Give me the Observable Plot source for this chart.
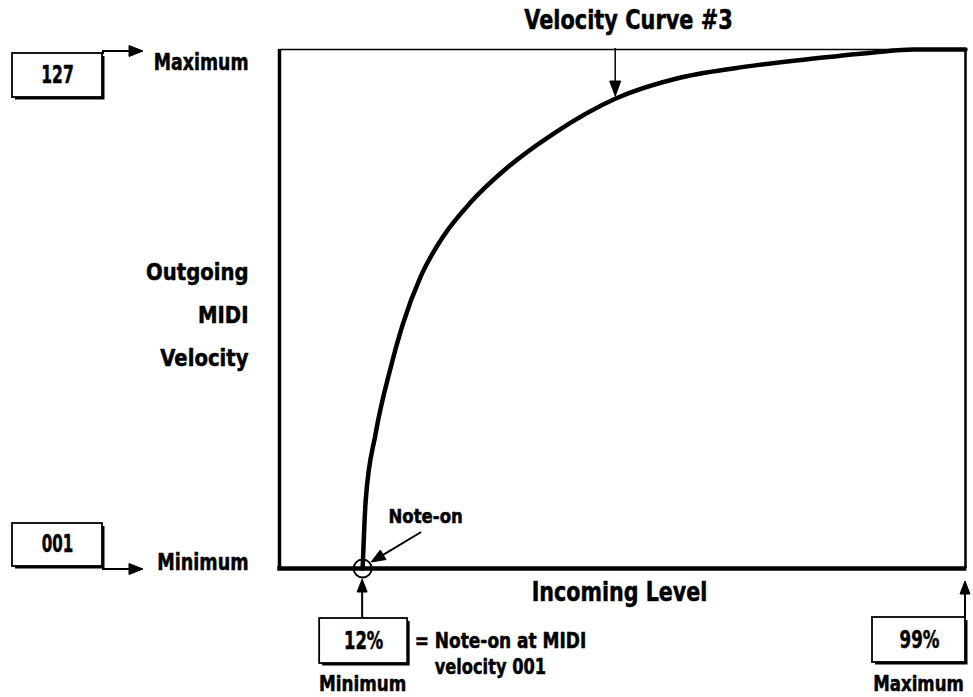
<!DOCTYPE html>
<html>
<head>
<meta charset="utf-8">
<script src="https://cdn.jsdelivr.net/npm/d3@7"></script>
<script src="https://cdn.jsdelivr.net/npm/@observablehq/plot@0.6"></script>
<style>
  html, body { margin: 0; padding: 0; background: #fff; }
  svg { display: block; }
</style>
</head>
<body>
<div id="chart"></div>
<script>
// ---- data ----
const title = "Velocity Curve #3";
const level =    [12, 12.44, 13.88, 16.05, 17.78, 20.38, 23.70, 27.59, 32.93, 39.57, 48.52, 57.90, 67.57, 77.09, 85.75, 91.52, 99];
const velocity = [1,  17.5,  33.8,  49.8,  60.2,  71.9,  81.8,  89.9,  98.4,  106.6, 115.1, 120.2, 122.9, 124.8, 126.3, 127,   127];
const yTicks = [127, 1];
const yTickLabels = ["127", "001"];
const yTickNames = ["Maximum", "Minimum"];
const xTicks = [12, 99];
const xTickLabels = ["12%", "99%"];
const xTickNames = ["Minimum", "Maximum"];
const yAxisTitle = "Outgoing\nMIDI\nVelocity";
const xAxisTitle = "Incoming Level";
const noteOnLabel = "Note-on";
const noteOnNote = ["= Note-on at MIDI", "velocity 001"];
const pointedIndex = 10; // curve point the title arrow points at

const curve = level.map((x, i) => ({x, y: velocity[i]}));
const FONT = '"DejaVu Sans Condensed", "DejaVu Sans", sans-serif';

// horizontal squeeze per text, to imitate the condensed face of the original
const squeeze = {
  "Velocity Curve #3": 0.86, "Maximum": 0.84, "Minimum": 0.85,
  "127": 0.72, "001": 0.70, "12%": 0.76, "99%": 0.77,
  "Incoming Level": 0.85, "Note-on": 0.92, "= Note-on at MIDI": 0.90,
  "velocity 001": 0.86, "OutgoingMIDIVelocity": 0.95
};

function tri(g, tx, ty, ux, uy, L, W) {
  const bx = tx - ux * L, by = ty - uy * L;
  const px = -uy * W, py = ux * W;
  g.append("path")
    .attr("d", `M${tx},${ty}L${bx + px},${by + py}L${bx - px},${by - py}Z`)
    .attr("fill", "black").attr("stroke", "black").attr("stroke-width", 1);
}

function annotations(index, scales) {
  const sx = scales.x, sy = scales.y;
  const g = d3.create("svg:g").attr("fill", "none").attr("stroke", "black").attr("stroke-linejoin", "miter");
  const x0 = sx(0), x12 = sx(xTicks[0]), x99 = sx(xTicks[1]);
  const yMax = sy(yTicks[0]), yMin = sy(yTicks[1]);

  function box(x, y, w, h) {
    g.append("rect").attr("x", x).attr("y", y).attr("width", w).attr("height", h)
      .attr("fill", "white").attr("stroke-width", 1.8);
    g.append("path").attr("d", `M${x + 3},${y + h + 1.2}H${x + w + 1.2}V${y + 3}`).attr("stroke-width", 2.6);
  }

  // left boxes (127 / 001)
  const bR = x0 - 177, bL = bR - 90;
  box(bL, yMax + 4, 90, 44);
  g.append("path").attr("d", `M${bR + 1},${yMax + 5}V${yMax + 2}H${bR + 28}`).attr("stroke-width", 2);
  tri(g, bR + 41, yMax + 2, 1, 0, 14, 5.5);

  box(bL, yMin - 45, 90, 43);
  g.append("path").attr("d", `M${bR + 1},${yMin - 3}V${yMin + 1}H${bR + 28}`).attr("stroke-width", 2);
  tri(g, bR + 41, yMin + 1, 1, 0, 14, 5.5);

  // bottom boxes (12% / 99%)
  box(x12 - 43, yMin + 50, 88, 45);
  g.append("path").attr("d", `M${x12},${yMin + 50}V${yMin + 22}`).attr("stroke-width", 2);
  tri(g, x12, yMin + 11, 0, -1, 13, 5);

  box(x99 - 93, yMin + 49, 93, 45);
  g.append("path").attr("d", `M${x99},${yMin + 49}V${yMin + 24}`).attr("stroke-width", 2);
  tri(g, x99, yMin + 13, 0, -1, 13, 5);

  // title arrow pointing at the curve
  const px = sx(level[pointedIndex]), py = sy(velocity[pointedIndex]) - 2;
  g.append("path").attr("d", `M${px},${yMax - 1}V${py - 12}`).attr("stroke-width", 1.5);
  tri(g, px, py, 0, 1, 15, 5.5);

  // note-on arrow
  const nx = x12, ny = yMin;
  const sxp = nx + 59, syp = ny - 36, ex = nx + 9, ey = ny - 6;
  const len = Math.hypot(ex - sxp, ey - syp), ux = (ex - sxp) / len, uy = (ey - syp) / len;
  g.append("path").attr("d", `M${sxp},${syp}L${ex - ux * 12},${ey - uy * 12}`).attr("stroke-width", 2);
  tri(g, ex, ey, ux, uy, 14, 5.5);

  return g.node();
}

const txt = {fontSize: 23, fontWeight: "bold", fill: "black", stroke: "black", strokeWidth: 0.5, lineAnchor: "middle", textAnchor: "middle"};

const plot = Plot.plot({
  width: 973,
  height: 697,
  marginTop: 49,
  marginBottom: 129,
  marginLeft: 279,
  marginRight: 8,
  x: {domain: [0, 99], axis: null},
  y: {domain: [1, 127], axis: null},
  style: {fontFamily: FONT, background: "white", color: "black", overflow: "visible"},
  marks: [
    // frame
    Plot.ruleY([127], {stroke: "black", strokeWidth: 1.7}),
    Plot.ruleX([99], {stroke: "black", strokeWidth: 2.5}),
    Plot.ruleX([0], {stroke: "black", strokeWidth: 3.5}),
    Plot.ruleY([1], {stroke: "black", strokeWidth: 4.5, x1: -0.25, x2: 99.2}),
    // curve
    Plot.line(curve, {x: "x", y: "y", curve: "monotone-x", stroke: "black", strokeWidth: 4.5}),
    // note-on circle
    Plot.dot([curve[0]], {x: "x", y: "y", r: 9, stroke: "black", strokeWidth: 2, fill: "none"}),
    annotations,
    // texts
    Plot.text([title], {text: d => d, frameAnchor: "top", ...txt, dx: 6, dy: -29, fontSize: 27}),
    Plot.text([yTickNames[0]], {text: d => d, frameAnchor: "top-left", ...txt, dx: -31, dy: 13, textAnchor: "end"}),
    Plot.text([yTickNames[1]], {text: d => d, frameAnchor: "bottom-left", ...txt, dx: -31, dy: -6, textAnchor: "end"}),
    Plot.text([yTickLabels[0]], {text: d => d, frameAnchor: "top-left", ...txt, dx: -222, dy: 26, fontSize: 24}),
    Plot.text([yTickLabels[1]], {text: d => d, frameAnchor: "bottom-left", ...txt, dx: -222, dy: -24, fontSize: 24}),
    Plot.text([yAxisTitle], {text: d => d, frameAnchor: "left", ...txt, dx: -31, dy: 0, textAnchor: "end", lineHeight: 1.87}),
    Plot.text([xAxisTitle], {text: d => d, frameAnchor: "bottom", ...txt, dx: -3, dy: 24, fontSize: 27}),
    Plot.text([noteOnLabel], {text: d => d, x: xTicks[0], y: 1, ...txt, dx: 63, dy: -52, fontSize: 20}),
    Plot.text([xTickLabels[0]], {text: d => d, x: xTicks[0], y: 1, ...txt, dx: 1, dy: 73, fontSize: 24}),
    Plot.text([xTickLabels[1]], {text: d => d, x: xTicks[1], y: 1, ...txt, dx: -46, dy: 72, fontSize: 24}),
    Plot.text([noteOnNote[0]], {text: d => d, x: xTicks[0], y: 1, ...txt, dx: 52, dy: 73, textAnchor: "start", fontSize: 21}),
    Plot.text([noteOnNote[1]], {text: d => d, x: xTicks[0], y: 1, ...txt, dx: 72, dy: 99, textAnchor: "start", fontSize: 21}),
    Plot.text([xTickNames[0]], {text: d => d, x: xTicks[0], y: 1, ...txt, dy: 115, fontSize: 22}),
    Plot.text([xTickNames[1]], {text: d => d, x: xTicks[1], y: 1, ...txt, dx: -47, dy: 115, fontSize: 22})
  ]
});

// squeeze text horizontally around its anchor
d3.select(plot).selectAll("text").each(function () {
  const k = squeeze[this.textContent];
  if (!k) return;
  const t = this.getAttribute("transform") || "";
  const x = +(this.getAttribute("x") || 0), y = +(this.getAttribute("y") || 0);
  if (x || y) {
    this.setAttribute("x", 0); this.setAttribute("y", 0);
    this.setAttribute("transform", `${t} translate(${x},${y}) scale(${k},1)`);
  } else {
    this.setAttribute("transform", `${t} scale(${k},1)`);
  }
});

document.getElementById("chart").appendChild(plot);
</script>
</body>
</html>
